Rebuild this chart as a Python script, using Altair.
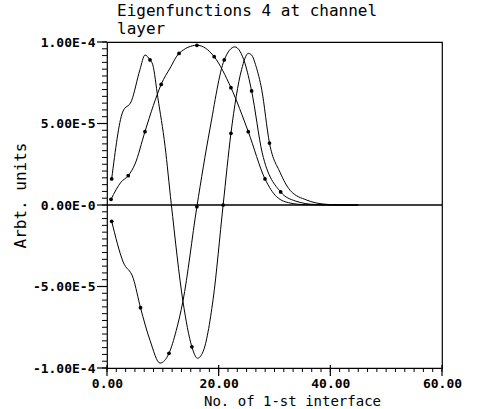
import altair as alt
import pandas as pd

# ---- data (values in units of 1E-4) ----
a_x = [0.72, 2.5, 3.8, 5.0, 6.8, 8.3, 9.7, 11.3, 12.9, 16.1, 19.2, 22.2, 25.3, 28.3, 30.4, 32.8, 35.5, 40.0, 45.0]
a_v = [0.035, 0.14, 0.18, 0.25, 0.45, 0.61, 0.74, 0.84, 0.93, 0.98, 0.91, 0.72, 0.45, 0.16, 0.05, 0.012, 0.002, 0.0, 0.0]

b_x = [0.84, 2.8, 4.4, 5.9, 6.8, 7.7, 8.2, 9.1, 10.4, 11.5, 13.6, 15.2, 16.2, 17.2, 19.0, 20.8,
       22.2, 24.1, 25.3, 25.9, 26.7, 27.7, 29.1, 31.0, 32.8, 35.8, 38.7, 42.0, 45.0]
b_v = [0.16, 0.57, 0.64, 0.83, 0.92, 0.89, 0.86, 0.66, 0.36, 0.01, -0.59, -0.87, -0.94, -0.90, -0.58, 0.0,
       0.44, 0.83, 0.93, 0.92, 0.85, 0.71, 0.38, 0.20, 0.09, 0.03, 0.006, 0.0, 0.0]

c_x = [0.84, 2.9, 4.7, 6.0, 7.7, 9.5, 11.1, 12.4, 13.6, 16.1, 18.4, 21.0, 22.9, 24.7, 25.9, 27.8,
       31.1, 33.7, 37.3, 42.0, 45.0]
c_v = [-0.10, -0.35, -0.45, -0.63, -0.83, -0.97, -0.91, -0.77, -0.59, -0.01, 0.46, 0.89, 0.97, 0.87, 0.70, 0.32,
       0.08, 0.025, 0.003, 0.0, 0.0]

# marker points
a_mx = [0.72, 3.8, 6.8, 9.7, 12.9, 16.1, 19.2, 22.2, 25.3, 28.3]
a_mv = [0.035, 0.18, 0.45, 0.74, 0.93, 0.98, 0.91, 0.72, 0.45, 0.16]
b_mx = [0.84, 7.7, 15.2, 20.8, 22.2, 29.1]
b_mv = [0.16, 0.89, -0.87, 0.0, 0.44, 0.38]
c_mx = [0.84, 6.0, 11.1, 16.1, 21.0, 25.9, 31.1]
c_mv = [-0.10, -0.63, -0.91, -0.01, 0.89, 0.70, 0.08]

# axis ticks
x_major = [0, 20, 40, 60]
x_minor_per_major = 12
y_major = [-1.0, -0.5, 0.0, 0.5, 1.0]
y_major_labels = ["-1.00E-4", "-5.00E-5", "0.00E-0", "5.00E-5", "1.00E-4"]
y_minor_per_major = 12

title_lines = ["Eigenfunctions 4 at channel", "layer"]
x_title = "No. of 1-st interface"
y_title = "Arbt. units"

# ---- build tables ----
lines = pd.concat([
    pd.DataFrame({"x": a_x, "v": a_v, "curve": "A"}),
    pd.DataFrame({"x": b_x, "v": b_v, "curve": "B"}),
    pd.DataFrame({"x": c_x, "v": c_v, "curve": "C"}),
], ignore_index=True)
marks = pd.concat([
    pd.DataFrame({"x": a_mx, "v": a_mv, "curve": "A"}),
    pd.DataFrame({"x": b_mx, "v": b_mv, "curve": "B"}),
    pd.DataFrame({"x": c_mx, "v": c_mv, "curve": "C"}),
], ignore_index=True)
zero = pd.DataFrame({"v": [0.0]})

x_step = (x_major[1] - x_major[0]) / x_minor_per_major
x_ticks = [round(x_major[0] + k * x_step, 4) for k in range(int(round((x_major[-1] - x_major[0]) / x_step)) + 1)]
y_step = (y_major[1] - y_major[0]) / y_minor_per_major
y_ticks = [round(y_major[0] + k * y_step, 6) for k in range(int(round((y_major[-1] - y_major[0]) / y_step)) + 1)]

x_minor_df = pd.DataFrame({"x": x_ticks})
x_major_df = pd.DataFrame({"x": x_major})
y_minor_df = pd.DataFrame({"v": y_ticks})
y_major_df = pd.DataFrame({"v": y_major})

y_expr = "''"
for val, lab in zip(reversed(y_major), reversed(y_major_labels)):
    y_expr = f"abs(datum.value - ({val})) < 0.001 ? '{lab}' : ({y_expr})"

FONT = "DejaVu Sans Mono"
PLOT_W, PLOT_H = 335, 326

x_scale = alt.Scale(domain=[0, 60], nice=False, zero=False)
y_scale = alt.Scale(domain=[-1, 1], nice=False, zero=False)

x_axis = alt.Axis(
    values=x_major,
    labelExpr="format(datum.value, '.2f')",
    ticks=False, domain=False,
    labelOverlap=False, labelFont=FONT, labelFontSize=13, labelFontWeight="bold",
    labelColor="black", grid=False,
    labelPadding=9, labelFlush=False, labelBound=False,
    title=x_title, titleFont=FONT, titleFontSize=14, titleFontWeight="normal",
    titleColor="black", titleX=185, titleY=37, titleBaseline="alphabetic", titleAlign="center",
)
y_axis = alt.Axis(
    values=y_major,
    labelExpr=y_expr,
    ticks=False, domain=False,
    labelOverlap=False, labelFont=FONT, labelFontSize=13, labelFontWeight="bold",
    labelColor="black", grid=False,
    labelPadding=12, labelFlush=False, labelBound=False,
    title=y_title, titleFont=FONT, titleFontSize=16, titleFontWeight="normal",
    titleColor="black", titleX=-87, titleY=153, titleAngle=-90,
    titleBaseline="middle", titleAlign="center",
)

enc_x = alt.X("x:Q", scale=x_scale, axis=x_axis)
enc_y = alt.Y("v:Q", scale=y_scale, axis=y_axis)

line_layer = alt.Chart(lines).mark_line(
    color="black", strokeWidth=1.0, interpolate="monotone"
).encode(x=enc_x, y=enc_y, detail="curve:N")

point_layer = alt.Chart(marks).mark_point(
    filled=True, color="black", size=14, opacity=1
).encode(x=enc_x, y=enc_y)

zero_layer = alt.Chart(zero).mark_rule(
    color="black", strokeWidth=1.6
).encode(y=enc_y)

# axis tick marks drawn from the tick arrays
x_minor_layer = alt.Chart(x_minor_df).mark_rule(color="black", strokeWidth=1).encode(
    x=enc_x, y=alt.value(PLOT_H), y2=alt.value(PLOT_H + 4))
x_major_layer = alt.Chart(x_major_df).mark_rule(color="black", strokeWidth=1.2).encode(
    x=enc_x, y=alt.value(PLOT_H - 3), y2=alt.value(PLOT_H + 8))
y_minor_layer = alt.Chart(y_minor_df).mark_rule(color="black", strokeWidth=1).encode(
    y=enc_y, x=alt.value(-5), x2=alt.value(0))
y_major_layer = alt.Chart(y_major_df).mark_rule(color="black", strokeWidth=1.2).encode(
    y=enc_y, x=alt.value(-10), x2=alt.value(0))

chart = alt.layer(
    x_minor_layer, x_major_layer, y_minor_layer, y_major_layer,
    line_layer, zero_layer, point_layer,
).properties(
    width=PLOT_W, height=PLOT_H,
    autosize="none",
    background="white",
    padding={"left": 107, "top": 42, "right": 38, "bottom": 41},
    title=alt.TitleParams(
        text=title_lines, anchor="start", align="left", frame="group", dx=10, dy=5, offset=4,
        font=FONT, fontSize=16, fontWeight="normal", color="black", lineHeight=18,
    ),
).configure_view(stroke="black", strokeWidth=1.2)

chart.save("out.html", embed_options={"renderer": "svg", "actions": False})
